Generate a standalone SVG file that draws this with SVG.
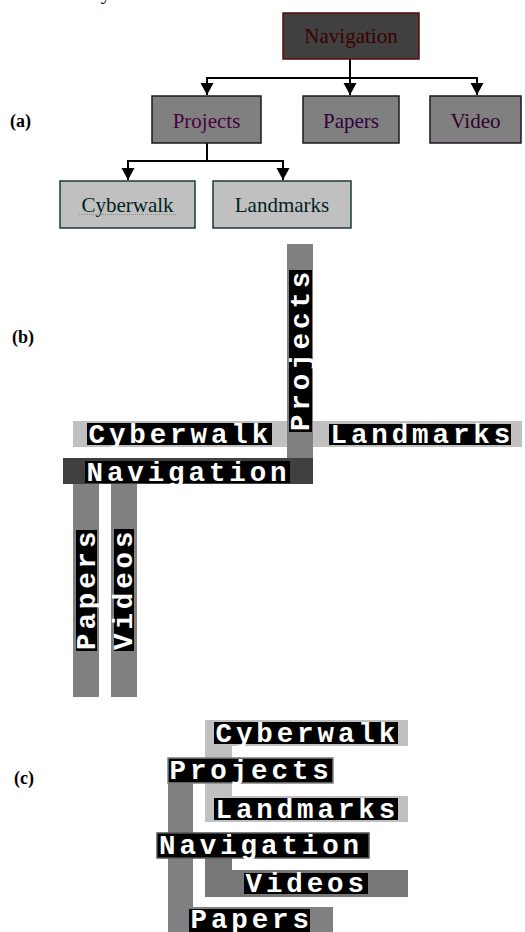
<svg xmlns="http://www.w3.org/2000/svg" width="525" height="932" viewBox="0 0 525 932">
<style>
.bg{fill:#fff}
.serif{font-family:"Liberation Serif","Times New Roman",serif;font-size:21px;text-anchor:middle}
.lab{font-family:"Liberation Serif","Times New Roman",serif;font-size:18px;font-weight:bold;fill:#000}
.m{font-family:"Liberation Mono","Courier New",monospace;font-weight:bold;font-size:27.5px;letter-spacing:3.9px;fill:#fff}
.blk{fill:#000}
.light{fill:#c0c0c0}
.mid{fill:#808080}
.dark{fill:#404040}
.conn{stroke:#000;stroke-width:2;fill:none}
</style>
<defs>
<marker id="arr" markerUnits="userSpaceOnUse" markerWidth="14" markerHeight="14" refX="12" refY="6.5" orient="auto">
<path d="M0,0 L12,6.5 L0,13 z" fill="#000"/>
</marker>
</defs>
<rect class="bg" x="0" y="0" width="525" height="932"/>
<text class="serif" x="106" y="-1" fill="#000">y</text>

<!-- (a) -->
<text class="lab" x="10" y="127">(a)</text>
<g id="connectors">
<path class="conn" d="M350,59 V95" marker-end="url(#arr)"/>
<path class="conn" d="M207,78 H477"/>
<path class="conn" d="M207,77 V95" marker-end="url(#arr)"/>
<path class="conn" d="M477,77 V95" marker-end="url(#arr)"/>
<path class="conn" d="M207,143 V161"/>
<path class="conn" d="M128,161 H283"/>
<path class="conn" d="M128,160 V180" marker-end="url(#arr)"/>
<path class="conn" d="M283,160 V180" marker-end="url(#arr)"/>
</g>
<g id="a-navigation">
<rect x="283" y="13" width="136" height="46" fill="#404040" stroke="#5a0a0a" stroke-width="1.5"/>
<text class="serif" x="351" y="43" fill="#3a0000">Navigation</text>
</g>
<g id="a-projects">
<rect x="152" y="96" width="109" height="47" fill="#808080" stroke="#1a1a1a" stroke-width="1.5"/>
<text class="serif" x="206.5" y="128" fill="#4a0040">Projects</text>
</g>
<g id="a-papers">
<rect x="303" y="96" width="96" height="47" fill="#808080" stroke="#1a1a1a" stroke-width="1.5"/>
<text class="serif" x="351" y="128" fill="#300040">Papers</text>
</g>
<g id="a-video">
<rect x="430" y="96" width="91" height="47" fill="#808080" stroke="#201020" stroke-width="1.5"/>
<text class="serif" x="475.5" y="128" fill="#300030">Video</text>
</g>
<g id="a-cyberwalk">
<rect x="60" y="181" width="135" height="47" fill="#c0c0c0" stroke="#1a3a3a" stroke-width="1.5"/>
<text class="serif" x="127.5" y="212" fill="#002222">Cyberwalk</text>
<path d="M79,214.5 H176" stroke="#8a8a8a" stroke-width="1" stroke-dasharray="1,1"/>
</g>
<g id="a-landmarks">
<rect x="213" y="181" width="138" height="47" fill="#c0c0c0" stroke="#1a3a3a" stroke-width="1.5"/>
<text class="serif" x="282" y="212" fill="#002222">Landmarks</text>
</g>

<!-- (b) -->
<text class="lab" x="12" y="343">(b)</text>
<g id="b-cyberwalk-landmarks-bar">
<rect class="light" x="73" y="421" width="449" height="26"/>
</g>
<g id="b-projects">
<rect class="mid" x="287" y="244" width="26" height="214"/>
<rect class="blk" x="289" y="270" width="23" height="162"/>
<text class="m" transform="translate(308.5,431) rotate(-90)">Projects</text>
</g>
<g id="b-cyberwalk">
<rect class="blk" x="87" y="423" width="185" height="22"/>
<text class="m" x="88.5" y="442.5">Cyberwalk</text>
</g>
<g id="b-landmarks">
<rect class="blk" x="329" y="424" width="182" height="21"/>
<text class="m" x="330.5" y="442.5">Landmarks</text>
</g>
<g id="b-navigation">
<rect class="dark" x="63" y="458" width="250" height="26"/>
<rect class="blk" x="85" y="461" width="205" height="22"/>
<text class="m" x="86.5" y="480.5">Navigation</text>
</g>
<g id="b-papers">
<rect class="mid" x="73" y="484" width="26" height="213"/>
<rect class="blk" x="76" y="530" width="21" height="121"/>
<text class="m" transform="translate(94.5,650) rotate(-90)">Papers</text>
</g>
<g id="b-videos">
<rect class="mid" x="111" y="484" width="26" height="213"/>
<rect class="blk" x="114" y="529" width="20" height="122"/>
<text class="m" transform="translate(132,650) rotate(-90)">Videos</text>
</g>

<!-- (c) -->
<text class="lab" x="14" y="784">(c)</text>
<g id="c-cyberwalk">
<rect class="light" x="205" y="720" width="203" height="26"/>
<rect class="light" x="205" y="746" width="27" height="50"/>
<rect class="blk" x="214" y="722" width="184" height="22"/>
<text class="m" x="215.5" y="741.5">Cyberwalk</text>
</g>
<g id="c-landmarks">
<rect class="light" x="205" y="796" width="203" height="26"/>
<rect class="blk" x="214" y="798" width="184" height="22"/>
<text class="m" x="215.5" y="817.5">Landmarks</text>
</g>
<g id="c-projects">
<rect class="mid" x="168" y="783" width="25" height="124"/>
<rect class="blk" x="168" y="758" width="165" height="25" stroke="#808080" stroke-width="1.5"/>
<text class="m" x="169.5" y="778.5">Projects</text>
</g>
<g id="c-videos">
<rect fill="#777" x="205" y="858" width="27" height="12"/>
<rect fill="#777" x="205" y="870" width="203" height="27"/>
<rect class="blk" x="244" y="873" width="124" height="21"/>
<text class="m" x="245.5" y="891.5">Videos</text>
</g>
<g id="c-navigation">
<rect class="blk" x="157" y="833" width="212" height="25" stroke="#555" stroke-width="1.5"/>
<text class="m" x="159" y="853.5">Navigation</text>
</g>
<g id="c-papers">
<rect class="mid" x="168" y="907" width="165" height="26"/>
<rect class="blk" x="189" y="909" width="121" height="24"/>
<text class="m" x="190.5" y="928">Papers</text>
</g>
</svg>
